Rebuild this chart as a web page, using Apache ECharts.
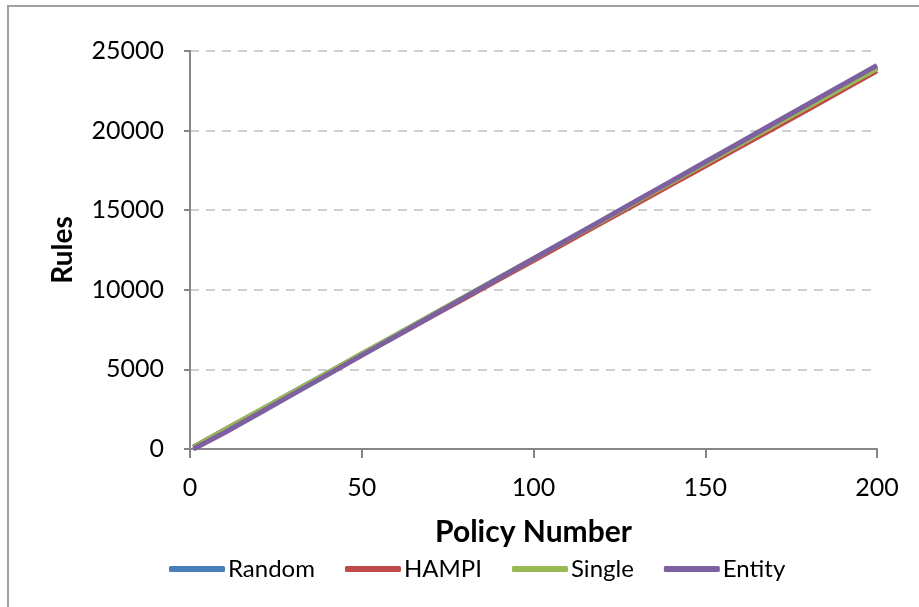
<!DOCTYPE html>
<html>
<head>
<meta charset="utf-8">
<script src="https://cdn.jsdelivr.net/npm/echarts@6/dist/echarts.min.js"></script>
<style>
  html, body { margin: 0; padding: 0; background: #fff; }
  #chart { width: 919px; height: 607px; }
</style>
</head>
<body>
<div id="chart"></div>
<script>
// Policy numbers sampled along the x axis
const policies = [1, 10, 20, 30, 40, 50, 60, 70, 80, 90, 100, 110, 120, 130, 140, 150, 160, 170, 180, 190, 200];

// Rule counts per generation strategy
const randomRules = [115, 1190, 2380, 3580, 4770, 5970, 7160, 8360, 9550, 10750, 11940, 13140, 14340, 15540, 16730, 17930, 19130, 20330, 21520, 22720, 23980];
const hampiRules  = [110, 1180, 2360, 3550, 4730, 5920, 7100, 8290, 9470, 10660, 11840, 13030, 14220, 15400, 16590, 17780, 18960, 20150, 21340, 22550, 23750];
const singleRules = [120, 1200, 2390, 3590, 4780, 5980, 7170, 8370, 9560, 10760, 11950, 13150, 14340, 15540, 16730, 17930, 19120, 20320, 21510, 22710, 23900];
const entityRules = [0, 1020, 2230, 3450, 4660, 5880, 7090, 8310, 9520, 10740, 11950, 13170, 14380, 15600, 16810, 18030, 19240, 20460, 21670, 22890, 24100];

const seriesNames  = ['Random', 'HAMPI', 'Single', 'Entity'];
const seriesValues = [randomRules, hampiRules, singleRules, entityRules];
const seriesColors = ['#4A7EBB', '#BE4B48', '#98B954', '#7D60A0'];

const font = 'Lato, "Liberation Sans", sans-serif';

const chart = echarts.init(document.getElementById('chart'));
chart.setOption({
  animation: false,
  backgroundColor: '#ffffff',
  graphic: [{
    type: 'rect',
    shape: { x: 8, y: 6, width: 1000, height: 700 },
    style: { fill: 'none', stroke: '#A0A0A0', lineWidth: 2 },
    silent: true
  }],
  grid: { left: 190, right: 42, top: 51, bottom: 158 },
  xAxis: {
    type: 'value',
    min: 0, max: 200, interval: 50,
    name: 'Policy Number',
    nameLocation: 'middle',
    nameGap: 68,
    nameTextStyle: { fontFamily: font, fontSize: 30, fontWeight: 'bold', color: '#000' },
    axisLine: { onZero: false, lineStyle: { color: '#868686', width: 2 } },
    axisTick: { show: true, length: 9, lineStyle: { color: '#868686', width: 2 } },
    axisLabel: { fontFamily: font, fontSize: 25, color: '#000', margin: 26 },
    splitLine: { show: false }
  },
  yAxis: {
    type: 'value',
    min: 0, max: 25000, interval: 5000,
    name: 'Rules',
    nameLocation: 'middle',
    nameGap: 113,
    nameRotate: 90,
    nameTextStyle: { fontFamily: font, fontSize: 28, fontWeight: 'bold', color: '#000' },
    axisLine: { show: true, lineStyle: { color: '#868686', width: 2 } },
    axisTick: { show: true, length: 6, lineStyle: { color: '#868686', width: 2 } },
    axisLabel: {
      fontFamily: font, fontSize: 25, color: '#000', margin: 26,
      formatter: (v) => String(v)
    },
    splitLine: { show: true, lineStyle: { color: '#C0C0C0', type: [9, 7], width: 1.5 } }
  },
  legend: {
    left: 164, top: 552,
    itemWidth: 56, itemHeight: 6, itemGap: 30,
    icon: 'roundRect',
    textStyle: { fontFamily: font, fontSize: 24, color: '#000', padding: [0, 0, 0, -2] },
    data: seriesNames
  },
  series: seriesNames.map((name, i) => ({
    name,
    type: 'line',
    data: policies.map((p, j) => [p, seriesValues[i][j]]),
    showSymbol: false,
    symbol: 'none',
    lineStyle: { color: seriesColors[i], width: 5 },
    itemStyle: { color: seriesColors[i] },
    z: 2 + i
  }))
});
</script>
</body>
</html>
